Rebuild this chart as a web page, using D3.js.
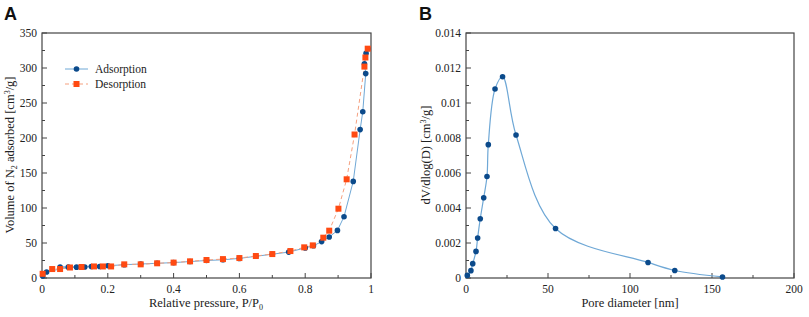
<!DOCTYPE html>
<html>
<head>
<meta charset="utf-8">
<script src="https://cdn.jsdelivr.net/npm/d3@7"></script>
<style>
  body { margin: 0; background: #fff; }
</style>
</head>
<body>
<div id="chart"></div>
<script>
// panel A: N2 isotherm
const adsP = [0.002, 0.014, 0.055, 0.08, 0.105, 0.13, 0.15, 0.175, 0.2, 0.25, 0.3, 0.35, 0.4, 0.45, 0.5, 0.55, 0.6, 0.65, 0.7, 0.75, 0.8, 0.825, 0.85, 0.873, 0.898, 0.918, 0.946, 0.967, 0.975, 0.984, 0.98, 0.985, 0.991];
const adsV = [3, 8.6, 15.7, 15.5, 15.5, 15.7, 16.5, 16.5, 17.5, 19, 20, 21, 22, 23.5, 25, 26, 28, 31, 34, 37, 43, 46, 52, 58.5, 68, 87.6, 138, 212, 237.6, 292, 306, 321, 327.6];
const desP = [0.002, 0.031, 0.055, 0.085, 0.12, 0.158, 0.185, 0.21, 0.25, 0.3, 0.35, 0.4, 0.45, 0.5, 0.55, 0.6, 0.65, 0.7, 0.755, 0.797, 0.823, 0.855, 0.873, 0.901, 0.926, 0.95, 0.98, 0.983, 0.99];
const desV = [6, 12.8, 12.8, 15, 15.7, 16.5, 16.5, 16.5, 19.5, 19.5, 21, 22, 23.8, 25.7, 27, 28.5, 31.4, 34.2, 38.5, 43.8, 46.6, 57.6, 67.6, 99, 141, 205, 302, 315, 327.6];

// panel B: pore size distribution
const poreD = [0.8, 3.0, 4.1, 6.1, 7.1, 8.7, 10.8, 12.8, 13.6, 17.7, 22.3, 30.5, 54.6, 111, 127.3, 156.4];
const poreDV = [0.00015, 0.00042, 0.00082, 0.00152, 0.00229, 0.00339, 0.00459, 0.0058, 0.00762, 0.0108, 0.0115, 0.00817, 0.00283, 0.00089, 0.00043, 0.00006];

const aYTicks = [0, 50, 100, 150, 200, 250, 300, 350];
const aXTicks = [0, 0.2, 0.4, 0.6, 0.8, 1];
const bYTicks = [0, 0.002, 0.004, 0.006, 0.008, 0.01, 0.012, 0.014];
const bXTicks = [0, 50, 100, 150, 200];

const W = 809, H = 317;
const serif = '"Liberation Serif", "Times New Roman", Times, serif';
const svg = d3.select('#chart').append('svg')
  .attr('width', W)
  .attr('height', H)
  .attr('font-family', serif);

const blueLine = '#6fa8d6', blueDot = '#0b4a8b';
const redLine = '#f5a07f', redDot = '#ff4a12';
const ink = '#222';

function drawFrame(g, x, y, xTicks, yTicks, xMinor, yMinor, xFmt, yFmt) {
  const [x0, x1] = x.range();
  const [y0, y1] = y.range();
  g.append('rect')
    .attr('x', x0).attr('y', y1)
    .attr('width', x1 - x0).attr('height', y0 - y1)
    .attr('fill', 'none').attr('stroke', '#444').attr('stroke-width', 1.2);

  // ticks point inward
  g.selectAll('.xmaj').data(xTicks).join('line')
    .attr('x1', d => x(d)).attr('x2', d => x(d))
    .attr('y1', y0).attr('y2', y0 - 5)
    .attr('stroke', '#444');
  g.selectAll('.xmin').data(xMinor).join('line')
    .attr('x1', d => x(d)).attr('x2', d => x(d))
    .attr('y1', y0).attr('y2', y0 - 3)
    .attr('stroke', '#444');
  g.selectAll('.ymaj').data(yTicks).join('line')
    .attr('x1', x0).attr('x2', x0 + 5)
    .attr('y1', d => y(d)).attr('y2', d => y(d))
    .attr('stroke', '#444');
  g.selectAll('.ymin').data(yMinor).join('line')
    .attr('x1', x0).attr('x2', x0 + 3)
    .attr('y1', d => y(d)).attr('y2', d => y(d))
    .attr('stroke', '#444');

  g.selectAll('.xlab').data(xTicks).join('text')
    .attr('x', d => x(d)).attr('y', y0 + 15)
    .attr('text-anchor', 'middle')
    .attr('font-family', serif).attr('font-size', 11.5).attr('fill', ink)
    .text(xFmt);
  g.selectAll('.ylab').data(yTicks).join('text')
    .attr('x', x0 - 5).attr('y', d => y(d) + 4)
    .attr('text-anchor', 'end')
    .attr('font-family', serif).attr('font-size', 11.5).attr('fill', ink)
    .text(yFmt);
}

// ---------- panel A ----------
const xA = d3.scaleLinear().domain([0, 1]).range([42, 371]);
const yA = d3.scaleLinear().domain([0, 350]).range([278, 33]);
const gA = svg.append('g');

drawFrame(gA, xA, yA, aXTicks, aYTicks,
  [0.1, 0.3, 0.5, 0.7, 0.9], [25, 75, 125, 175, 225, 275, 325],
  d => d === 0 ? '0' : d === 1 ? '1' : d, d => d);

const adsData = adsP.map((p, i) => [p, adsV[i]]).sort((a, b) => a[1] - b[1]);
const desData = desP.map((p, i) => [p, desV[i]]);

const lineA = d3.line().x(d => xA(d[0])).y(d => yA(d[1]));

gA.append('path').datum(adsData)
  .attr('d', lineA).attr('fill', 'none')
  .attr('stroke', blueLine).attr('stroke-width', 1);
gA.append('path').datum(desData)
  .attr('d', lineA).attr('fill', 'none')
  .attr('stroke', redLine).attr('stroke-width', 1)
  .attr('stroke-dasharray', '4,3');

gA.selectAll('.ads').data(adsData).join('circle')
  .attr('cx', d => xA(d[0])).attr('cy', d => yA(d[1]))
  .attr('r', 2.8).attr('fill', blueDot);
gA.selectAll('.des').data(desData).join('rect')
  .attr('x', d => xA(d[0]) - 3).attr('y', d => yA(d[1]) - 3)
  .attr('width', 6).attr('height', 6).attr('fill', redDot);

// legend
const leg = gA.append('g').attr('font-family', serif).attr('font-size', 11.5).attr('fill', ink);
leg.append('line').attr('x1', 65).attr('x2', 88).attr('y1', 69).attr('y2', 69)
  .attr('stroke', blueLine);
leg.append('circle').attr('cx', 76.5).attr('cy', 69).attr('r', 2.8).attr('fill', blueDot);
leg.append('text').attr('x', 95).attr('y', 73).text('Adsorption');
leg.append('line').attr('x1', 65).attr('x2', 88).attr('y1', 84).attr('y2', 84)
  .attr('stroke', redLine).attr('stroke-dasharray', '4,3');
leg.append('rect').attr('x', 73.5).attr('y', 81).attr('width', 6).attr('height', 6).attr('fill', redDot);
leg.append('text').attr('x', 95).attr('y', 88).text('Desorption');

// axis titles
const xTitleA = gA.append('text').attr('x', 206).attr('y', 307)
  .attr('text-anchor', 'middle')
  .attr('font-family', serif).attr('font-size', 12.5).attr('fill', ink);
xTitleA.append('tspan').text('Relative pressure, P/P');
xTitleA.append('tspan').attr('dy', 3).attr('font-size', 8).text('0');

const yTitleA = gA.append('text')
  .attr('transform', 'translate(14,155) rotate(-90)')
  .attr('text-anchor', 'middle')
  .attr('font-family', serif).attr('font-size', 12.5).attr('fill', ink);
yTitleA.append('tspan').text('Volume of N');
yTitleA.append('tspan').attr('dy', 3).attr('font-size', 8).text('2');
yTitleA.append('tspan').attr('dy', -3).text(' adsorbed [cm');
yTitleA.append('tspan').attr('dy', -4).attr('font-size', 8).text('3');
yTitleA.append('tspan').attr('dy', 4).text('/g]');

svg.append('text').attr('x', 4).attr('y', 20)
  .attr('font-family', '"Liberation Sans", Arial, sans-serif')
  .attr('font-weight', 'bold').attr('font-size', 18).attr('fill', '#111')
  .text('A');

// ---------- panel B ----------
const xB = d3.scaleLinear().domain([0, 200]).range([466, 794]);
const yB = d3.scaleLinear().domain([0, 0.014]).range([278, 33]);
const gB = svg.append('g');

drawFrame(gB, xB, yB, bXTicks, bYTicks,
  [25, 75, 125, 175], [0.001, 0.003, 0.005, 0.007, 0.009, 0.011, 0.013],
  d => d, d => d === 0 ? '0' : d3.format('.3~f')(d));

const poreData = [[0, 0]].concat(poreD.map((d, i) => [d, poreDV[i]]));
const lineB = d3.line()
  .x(d => xB(d[0])).y(d => yB(d[1]))
  .curve(d3.curveCatmullRom.alpha(0.5));

gB.append('path').datum(poreData)
  .attr('d', lineB).attr('fill', 'none')
  .attr('stroke', blueLine).attr('stroke-width', 1.2);

gB.selectAll('.pt').data(poreData.slice(1)).join('circle')
  .attr('cx', d => xB(d[0])).attr('cy', d => yB(d[1]))
  .attr('r', 2.8).attr('fill', blueDot);

gB.append('text').attr('x', 630).attr('y', 307)
  .attr('text-anchor', 'middle')
  .attr('font-family', serif).attr('font-size', 12.5).attr('fill', ink)
  .text('Pore diameter [nm]');

const yTitleB = gB.append('text')
  .attr('transform', 'translate(430,155) rotate(-90)')
  .attr('text-anchor', 'middle')
  .attr('font-family', serif).attr('font-size', 12.5).attr('fill', ink);
yTitleB.append('tspan').text('dV/dlog(D) [cm');
yTitleB.append('tspan').attr('dy', -4).attr('font-size', 8).text('3');
yTitleB.append('tspan').attr('dy', 4).text('/g]');

svg.append('text').attr('x', 419).attr('y', 20)
  .attr('font-family', '"Liberation Sans", Arial, sans-serif')
  .attr('font-weight', 'bold').attr('font-size', 18).attr('fill', '#111')
  .text('B');
</script>
</body>
</html>
